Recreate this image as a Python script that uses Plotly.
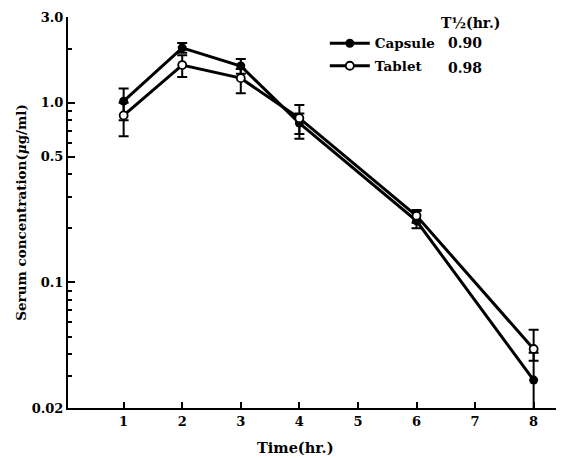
import plotly.graph_objects as go

time = [1, 2, 3, 4, 6, 8]
capsule = [1.02, 2.02, 1.60, 0.77, 0.22, 0.0286]
capsule_plus = [0.18, 0.13, 0.15, 0.10, 0.03, 0.012]
capsule_minus = [0.22, 0.12, 0.15, 0.10, 0.02, 0.009]
tablet = [0.85, 1.62, 1.37, 0.82, 0.235, 0.0426]
tablet_plus = [0.15, 0.22, 0.17, 0.15, 0.018, 0.012]
tablet_minus = [0.20, 0.23, 0.24, 0.19, 0.02, 0.006]
series_names = ["Capsule", "Tablet"]
half_life = ["0.90", "0.98"]
ytick_vals = [0.02, 0.1, 0.5, 1.0, 3.0]
ytick_text = ["0.02", "0.1", "0.5", "1.0", "3.0"]
yminor_vals = [2, 0.9, 0.8, 0.7, 0.6, 0.4, 0.3, 0.2, 0.09, 0.08, 0.07, 0.06, 0.05, 0.04, 0.03]
xtick_vals = [1, 2, 3, 4, 5, 6, 7, 8]

FONT = "DejaVu Serif"

fig = go.Figure()
fig.add_trace(go.Scatter(
    x=time, y=capsule, name=series_names[0], mode="lines+markers", legendgroup="a",
    line=dict(color="black", width=3),
    marker=dict(symbol="circle", size=9, color="black"),
    error_y=dict(type="data", symmetric=False, array=capsule_plus, arrayminus=capsule_minus,
                 color="black", thickness=2, width=5),
))
fig.add_trace(go.Scatter(
    x=time, y=tablet, name=series_names[1], mode="lines+markers", legendgroup="b",
    line=dict(color="black", width=3),
    marker=dict(symbol="circle", size=8, color="white", line=dict(color="black", width=1.8)),
    error_y=dict(type="data", symmetric=False, array=tablet_plus, arrayminus=tablet_minus,
                 color="black", thickness=2, width=5),
))

fig.add_annotation(text="T½(hr.)", xref="paper", yref="paper", x=0.819, y=0.985,
                   xanchor="center", yanchor="middle", showarrow=False,
                   font=dict(family=FONT, size=14, color="black", weight="bold"))
for i, hl in enumerate(half_life):
    fig.add_annotation(text=hl, xref="paper", yref="paper", x=0.8075, y=0.934 - i * 0.064,
                       xanchor="center", yanchor="middle", showarrow=False,
                       font=dict(family=FONT, size=14, color="black", weight="bold"))
fig.add_annotation(text="Time(hr.)", xref="paper", yref="paper", x=0.463, y=-0.1,
                   xanchor="center", yanchor="middle", showarrow=False,
                   font=dict(family=FONT, size=14.5, color="black", weight="bold"))

fig.update_layout(
    width=564, height=458,
    margin=dict(l=60, r=12, t=9, b=58, autoexpand=False),
    paper_bgcolor="white", plot_bgcolor="white",
    font=dict(family=FONT, size=13, color="black", weight="bold"),
    showlegend=True,
    legend=dict(x=0.522, y=0.972, xanchor="left", yanchor="top", bgcolor="rgba(0,0,0,0)",
                itemwidth=40, tracegroupgap=2, traceorder="grouped",
                font=dict(family=FONT, size=13.5, color="black", weight="bold")),
    xaxis=dict(
        range=[0.05, 8.45], showline=True, linecolor="black", linewidth=2, automargin=False,
        tickvals=xtick_vals, ticks="inside", ticklen=6, tickwidth=1.5, tickcolor="black",
        showgrid=False, zeroline=False, tickfont=dict(size=13),
    ),
    yaxis=dict(
        type="log", range=[-1.69897, 0.4771], showline=True, linecolor="black", linewidth=2,
        automargin=False,
        tickvals=ytick_vals, ticktext=ytick_text, ticks="inside", ticklen=7, tickwidth=1.5,
        tickcolor="black", showgrid=False, zeroline=False, tickfont=dict(size=13),
        minor=dict(tickvals=yminor_vals, ticks="inside", ticklen=4, tickwidth=1.5, tickcolor="black", showgrid=False),
        title=dict(text="Serum concentration(<i>μ</i>g/ml)", font=dict(family=FONT, size=13.5, weight="bold"), standoff=2),
    ),
)

fig.write_html("out.html")
